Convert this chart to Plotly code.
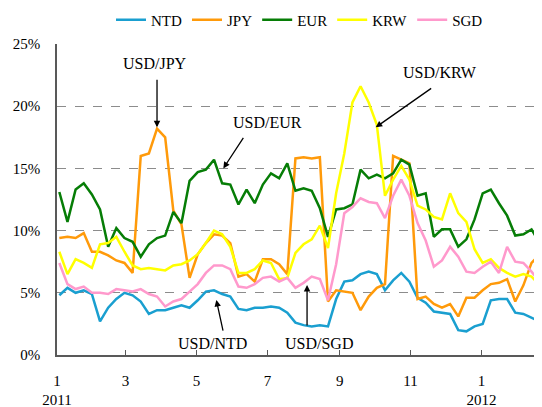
import plotly.graph_objects as go
import pandas as pd

# Weekly observations, Jan 2011 - Feb 2012 (volatility, %)
dates = pd.date_range("2011-01-03", periods=60, freq="7D")

ntd = [4.8,5.4,5.0,5.2,4.9,2.7,3.8,4.5,5.0,4.8,4.3,3.3,3.6,3.6,3.8,
       4.0,3.8,4.4,5.1,5.2,4.9,4.7,3.7,3.6,3.8,3.8,3.9,3.8,3.4,2.6,
       2.4,2.3,2.4,2.3,4.5,5.9,6.0,6.5,6.7,6.5,5.2,6.0,6.6,5.9,4.6,
       4.2,3.5,3.4,3.3,2.0,1.9,2.3,2.5,4.4,4.5,4.5,3.4,3.3,3.0,2.7]
jpy = [9.4,9.5,9.4,9.8,8.3,8.3,8.0,7.6,7.4,6.6,16.0,16.2,18.2,17.5,11.6,
       10.5,6.2,8.1,9.0,9.7,9.6,9.0,6.3,6.5,5.9,7.7,7.7,7.3,6.5,15.8,
       15.9,15.8,15.9,4.3,5.2,5.1,5.0,3.6,4.7,5.4,5.7,16.0,15.7,15.4,4.5,
       4.7,4.1,3.8,4.1,3.1,4.6,4.6,5.2,5.7,5.8,6.1,4.3,5.6,7.4,8.1]
eur = [13.1,10.7,13.3,13.8,12.9,11.7,8.7,10.2,9.4,9.1,7.9,8.9,9.4,9.6,11.5,
       10.6,14.0,14.7,14.9,15.7,13.8,13.7,12.1,13.3,12.2,13.7,14.6,14.2,15.4,13.2,
       13.4,13.2,11.8,9.5,11.7,11.8,12.1,14.9,14.2,14.5,14.2,14.6,15.7,15.3,12.8,
       13.0,9.5,10.1,10.1,8.7,9.3,10.9,13.0,13.3,12.2,11.2,9.6,9.7,10.1,9.0]
krw = [8.3,6.5,7.7,7.4,7.0,8.9,9.0,9.5,8.3,7.2,6.9,7.0,6.9,6.8,7.2,
       7.3,7.6,8.1,9.0,10.0,9.7,8.7,6.6,6.6,6.9,7.6,7.4,6.1,6.2,8.2,
       8.9,9.3,10.4,8.6,13.0,16.2,20.3,21.6,20.3,18.5,12.8,14.1,15.2,14.1,12.0,
       11.7,11.1,10.9,13.0,11.4,10.7,8.5,7.4,7.7,7.0,6.6,6.3,6.5,6.3,5.6]
sgd = [7.4,5.7,5.3,5.5,5.0,5.0,4.9,5.3,5.2,5.1,5.3,4.9,4.7,3.9,4.3,
       4.5,5.1,5.7,6.6,7.2,7.2,6.9,5.5,5.4,5.7,6.2,6.3,5.9,6.2,5.4,
       5.8,6.3,6.1,4.4,7.3,11.4,11.9,12.6,12.3,12.2,11.0,12.8,14.1,12.8,10.6,
       9.2,7.1,7.6,8.7,7.9,6.7,6.6,7.1,7.5,6.6,8.7,7.5,7.4,6.7,5.9]

series_names = ["NTD", "JPY", "EUR", "KRW", "SGD"]
series_values = [ntd, jpy, eur, krw, sgd]
series_colors = ["#1a9fd0", "#ff9a0a", "#067d06", "#ffff00", "#ff99cc"]

x_tick_vals = ["2011-01-01", "2011-03-01", "2011-05-01", "2011-07-01",
               "2011-09-01", "2011-11-01", "2012-01-01"]
x_tick_text = ["1<br>2011", "3", "5", "7", "9", "11", "1<br>2012"]
y_tick_vals = [0, 5, 10, 15, 20, 25]
y_tick_text = ["0%", "5%", "10%", "15%", "20%", "25%"]

# annotation labels: (text, text_x, text_y, head_x, head_y, tail_dx, tail_dy)
labels = [
    ("USD/JPY", "2011-03-26", 23.4, "2011-03-28", 18.3, 0, -49),
    ("USD/EUR", "2011-07-01", 18.65, "2011-05-24", 15.0, 21, -32),
    ("USD/KRW", "2011-11-26", 22.67, "2011-10-02", 18.3, 57, -40),
    ("USD/NTD", "2011-05-15", 0.96, "2011-05-18", 4.42, 7, 32),
    ("USD/SGD", "2011-08-14", 0.96, "2011-08-04", 5.63, 0, 42),
]

FONT = "Liberation Serif, Times New Roman, serif"

fig = go.Figure()
for name, vals, col in zip(series_names, series_values, series_colors):
    fig.add_trace(go.Scatter(x=dates, y=vals, mode="lines", name=name,
                             line=dict(color=col, width=2.5)))

for text, tx, ty, hx, hy, dx, dy in labels:
    fig.add_annotation(x=tx, y=ty, text=text, showarrow=False,
                       font=dict(family=FONT, size=16, color="black"))
    fig.add_annotation(x=hx, y=hy, text="", showarrow=True, ax=dx, ay=dy,
                       arrowhead=2, arrowsize=1, arrowwidth=1.3,
                       arrowcolor="black")

# the page body adds an 8px offset, so the figure is sized to fit the window
fig.update_layout(
    width=534, height=399,
    margin=dict(l=49, r=0, t=36, b=52, autoexpand=False),
    paper_bgcolor="white", plot_bgcolor="white",
    font=dict(family=FONT, size=15, color="black"),
    showlegend=True,
    legend=dict(orientation="h", x=0.5, xanchor="center",
                yref="container", y=0.97, yanchor="middle",
                font=dict(family=FONT, size=15),
                itemwidth=30, bgcolor="rgba(0,0,0,0)"),
    xaxis=dict(type="date", range=["2011-01-01", "2012-02-22"],
               tickmode="array", tickvals=x_tick_vals, ticktext=x_tick_text,
               ticks="inside", ticklen=5, tickcolor="#595959", tickwidth=1,
               showline=True, linecolor="#595959", linewidth=1.5,
               showgrid=False, zeroline=False, ticklabelstandoff=11,
               automargin=False),
    yaxis=dict(range=[0, 25], tickmode="array", tickvals=y_tick_vals,
               ticktext=y_tick_text, showgrid=True, gridcolor="#8c8c8c",
               griddash="dash", gridwidth=1, showline=True,
               linecolor="#595959", linewidth=1.5, zeroline=False,
               ticks="", ticklabelstandoff=12, automargin=False),
)

fig.write_html("out.html")
